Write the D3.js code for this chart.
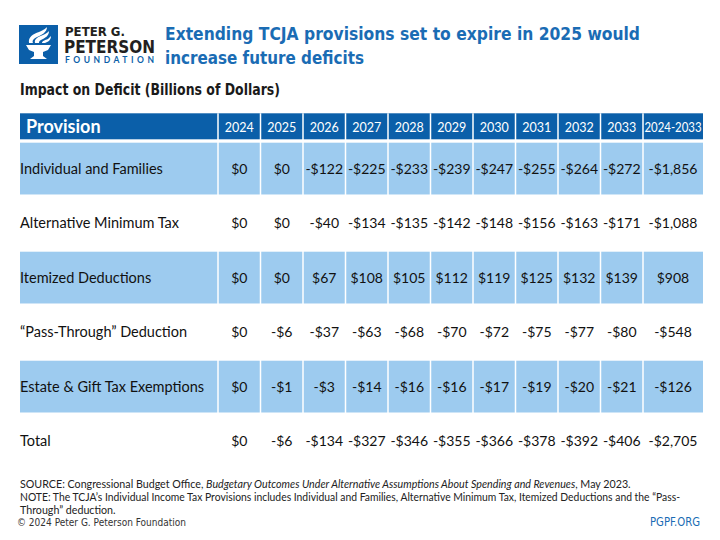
<!DOCTYPE html>
<html>
<head>
<meta charset="utf-8">
<script src="https://cdn.jsdelivr.net/npm/d3@7"></script>
<style>
  html, body { margin: 0; padding: 0; background: #fff; }
  svg { display: block; }
</style>
</head>
<body>
<svg id="chart" width="720" height="540"></svg>
<script>
// ---------- data ----------
const titleLines = ["Extending TCJA provisions set to expire in 2025 would", "increase future deficits"];
const subtitle = "Impact on Deficit (Billions of Dollars)";
const years = ["2024", "2025", "2026", "2027", "2028", "2029", "2030", "2031", "2032", "2033"];
const totalHeader = "2024-2033";
const provisions = ["Individual and Families", "Alternative Minimum Tax", "Itemized Deductions", "\u201cPass-Through\u201d Deduction", "Estate & Gift Tax Exemptions", "Total"];
const individualFamilies = [0, 0, -122, -225, -233, -239, -247, -255, -264, -272];
const altMinimumTax = [0, 0, -40, -134, -135, -142, -148, -156, -163, -171];
const itemizedDeductions = [0, 0, 67, 108, 105, 112, 119, 125, 132, 139];
const passThrough = [0, -6, -37, -63, -68, -70, -72, -75, -77, -80];
const estateGift = [0, -1, -3, -14, -16, -16, -17, -19, -20, -21];
const totalRow = [0, -6, -134, -327, -346, -355, -366, -378, -392, -406];
const tenYearTotals = [-1856, -1088, 908, -548, -126, -2705];
const shadedRows = ["Individual and Families", "Itemized Deductions", "Estate & Gift Tax Exemptions"];

const rowValues = [individualFamilies, altMinimumTax, itemizedDeductions, passThrough, estateGift, totalRow];

// ---------- styles ----------
const headerBlue = "#0b5fa9";
const lightBlue = "#9dcbef";
const titleBlue = "#1a6cb4";
const bodyFont = "Lato, 'Open Sans', sans-serif";
const condFont = "'DejaVu Sans Condensed', 'DejaVu Sans', sans-serif";

const svg = d3.select("#chart");
const fmt = v => (v < 0 ? "-" : "") + "$" + d3.format(",")(Math.abs(v));

// ---------- logo ----------
const logo = svg.append("g");
logo.append("rect").attr("x", 19).attr("y", 25).attr("width", 39).attr("height", 39).attr("fill", headerBlue);
const torch = logo.append("g").attr("fill", "#fff");
torch.append("path").attr("d", "M26,45 L51,45 L48,50 L43,52 L43,56 L47,59 L30,59 L34,56 L34,52 L29,50 Z");
torch.append("path").attr("d", "M29,43 C28,37 33,34 39,32 C44,30 46,28 47,27 C47,32 42,35 37,37 C33,39 32,41 33,43 Z");
torch.append("path").attr("d", "M35,43 C34,39 38,37 43,35 C46,34 48,32 49,31 C49,36 45,38 41,40 C39,41 39,42 39,43 Z");
torch.append("path").attr("d", "M42,43 C42,41 45,40 48,39 C49,38 50,37 51,36 C51,40 48,42 45,43 Z");
logo.append("text").attr("x", 65).attr("y", 35.5).attr("font-family", condFont).attr("font-weight", "bold")
  .attr("font-size", 13).attr("fill", "#231f20").attr("textLength", 60).attr("lengthAdjust", "spacingAndGlyphs").text("PETER G.");
logo.append("text").attr("x", 64).attr("y", 53).attr("font-family", condFont).attr("font-weight", "bold")
  .attr("font-size", 18.5).attr("fill", "#231f20").attr("textLength", 91).attr("lengthAdjust", "spacingAndGlyphs").text("PETERSON");
logo.append("text").attr("x", 65).attr("y", 63.3).attr("font-family", bodyFont).attr("font-weight", "bold")
  .attr("font-size", 8.5).attr("fill", headerBlue).attr("textLength", 89).attr("lengthAdjust", "spacing").text("FOUNDATION");

// ---------- title ----------
const titleLens = [475, 199];
svg.append("g").selectAll("text").data(titleLines).join("text")
  .attr("x", 165).attr("y", (d, i) => 40 + i * 23.5)
  .attr("font-family", condFont).attr("font-weight", "bold").attr("font-size", 18)
  .attr("textLength", (d, i) => titleLens[i]).attr("lengthAdjust", "spacingAndGlyphs")
  .attr("fill", titleBlue).text(d => d);

svg.append("text").attr("x", 20).attr("y", 95)
  .attr("font-family", condFont).attr("font-weight", "bold").attr("font-size", 15)
  .attr("textLength", 260).attr("lengthAdjust", "spacingAndGlyphs")
  .attr("fill", "#1a1a1a").text(subtitle);

// ---------- scales ----------
const x = d3.scaleBand().domain(years).range([218, 643]);
const xTotal = d3.scaleBand().domain([totalHeader]).range([643, 703]);
const xLabel = d3.scaleBand().domain(["Provision"]).range([20, 218]);
const y = d3.scaleBand().domain(provisions).range([142.7, 467]).paddingInner(0.05);
const headerTop = 113.3, headerBottom = 139.3;

// ---------- header row ----------
const head = svg.append("g");
head.append("rect").attr("x", 20).attr("y", headerTop).attr("width", 683).attr("height", headerBottom - headerTop).attr("fill", headerBlue);
head.append("text").attr("x", xLabel("Provision") + 6).attr("y", 133.3)
  .attr("font-family", bodyFont).attr("font-weight", "bold").attr("font-size", 18).attr("fill", "#fff").text("Provision");
head.selectAll("text.yr").data(years).join("text").attr("class", "yr")
  .attr("x", d => x(d) + x.bandwidth() / 2).attr("y", 131.5).attr("text-anchor", "middle")
  .attr("font-family", bodyFont).attr("font-size", 12.5).attr("fill", "#fff").text(d => d);
head.append("text").attr("x", xTotal(totalHeader) + xTotal.bandwidth() / 2).attr("y", 131.5).attr("text-anchor", "middle")
  .attr("font-family", bodyFont).attr("font-size", 12.5).attr("fill", "#fff").attr("textLength", 57).attr("lengthAdjust", "spacingAndGlyphs").text(totalHeader);

// ---------- body rows ----------
const rows = svg.append("g").selectAll("g.row").data(provisions).join("g").attr("class", "row");
rows.filter(d => shadedRows.includes(d)).append("rect")
  .attr("x", 20).attr("y", d => y(d)).attr("width", 683).attr("height", y.bandwidth()).attr("fill", lightBlue);

rows.append("text").attr("x", 20).attr("y", d => y(d) + y.bandwidth() / 2 + 5)
  .attr("font-family", bodyFont).attr("font-size", 14.5).attr("fill", "#111").text(d => d);

rows.each(function (p, i) {
  const g = d3.select(this);
  g.selectAll("text.v").data(rowValues[i]).join("text").attr("class", "v")
    .attr("x", (d, j) => x(years[j]) + x.bandwidth() / 2)
    .attr("y", y(p) + y.bandwidth() / 2 + 5).attr("text-anchor", "middle")
    .attr("font-family", bodyFont).attr("font-size", 14).attr("fill", "#111").text(d => fmt(d));
  g.append("text").attr("x", xTotal(totalHeader) + xTotal.bandwidth() / 2)
    .attr("y", y(p) + y.bandwidth() / 2 + 5).attr("text-anchor", "middle")
    .attr("font-family", bodyFont).attr("font-size", 14).attr("fill", "#111").text(fmt(tenYearTotals[i]));
});

// ---------- column separators (white) ----------
const sepX = years.map(d => x(d)).concat([xTotal(totalHeader)]);
svg.append("g").selectAll("line").data(sepX).join("line")
  .attr("x1", d => d).attr("x2", d => d).attr("y1", headerTop).attr("y2", y("Total"))
  .attr("stroke", "#fff").attr("stroke-width", 1.5);

// ---------- footer ----------
const foot = svg.append("g").attr("font-family", bodyFont).attr("font-size", 10.7).attr("fill", "#222");
const src = foot.append("text").attr("x", 20).attr("y", 488);
src.append("tspan").text("SOURCE: Congressional Budget Office, ");
src.append("tspan").attr("font-style", "italic").text("Budgetary Outcomes Under Alternative Assumptions About Spending and Revenues");
src.append("tspan").text(", May 2023.");
foot.append("text").attr("x", 20).attr("y", 501).attr("textLength", 660).attr("lengthAdjust", "spacingAndGlyphs")
  .text("NOTE: The TCJA\u2019s Individual Income Tax Provisions includes Individual and Families, Alternative Minimum Tax, Itemized Deductions and the \u201cPass-");
foot.append("text").attr("x", 20).attr("y", 514).text("Through\u201d deduction.");
svg.append("text").attr("x", 17).attr("y", 526).attr("font-family", condFont).attr("font-size", 11)
  .attr("textLength", 169).attr("lengthAdjust", "spacingAndGlyphs")
  .attr("fill", "#333").text("\u00a9 2024 Peter G. Peterson Foundation");
svg.append("text").attr("x", 700).attr("y", 526).attr("text-anchor", "end").attr("font-family", condFont)
  .attr("font-size", 11.5).attr("textLength", 50).attr("lengthAdjust", "spacingAndGlyphs")
  .attr("fill", titleBlue).text("PGPF.ORG");
</script>
</body>
</html>
